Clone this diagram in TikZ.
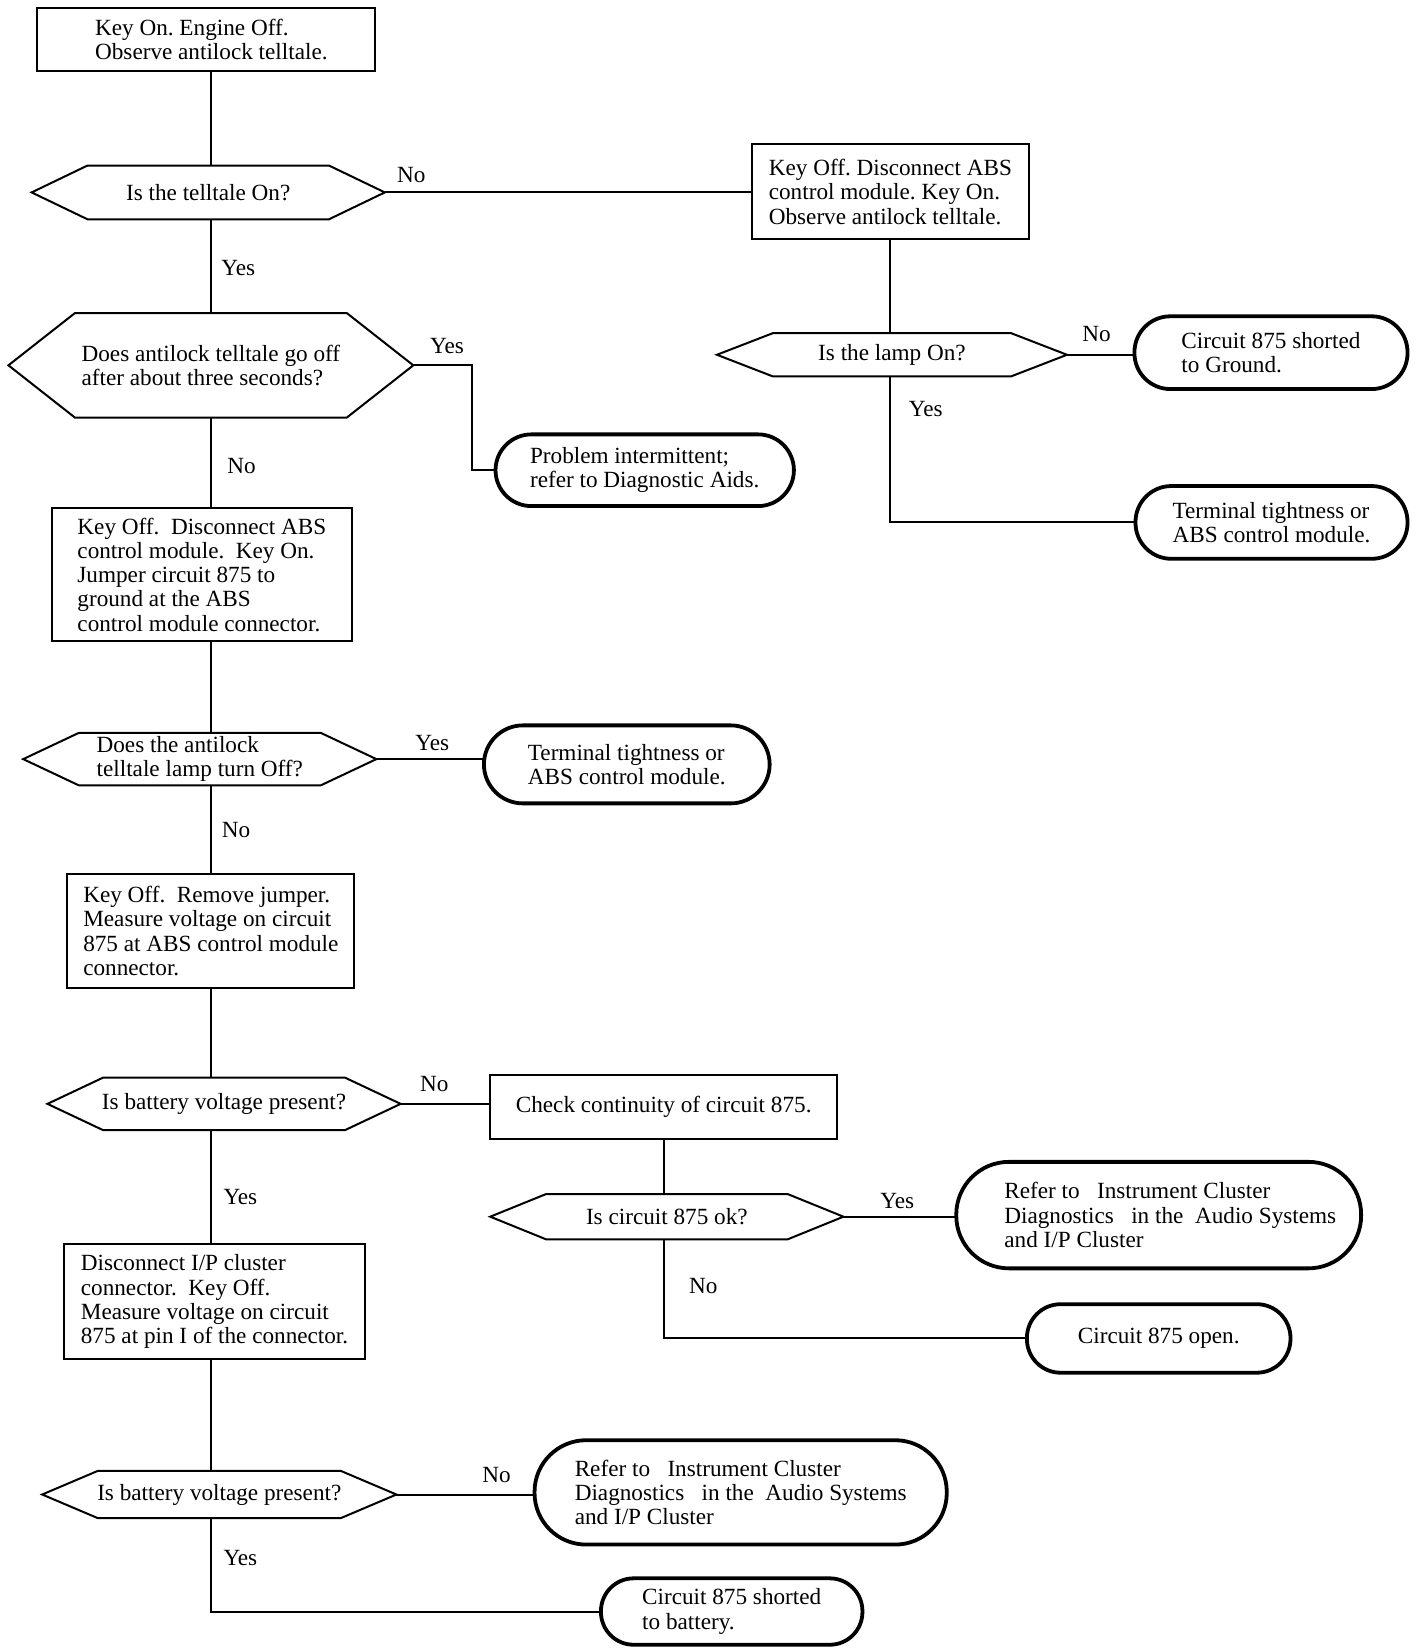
\documentclass[tikz,border=0pt]{standalone}
\usepackage{fontspec}
\setmainfont{Liberation Serif}
\frenchspacing
\newcommand\hexshape[2]{\draw[hexline] (#1.west) -- ([xshift=#2]#1.north west) -- ([xshift=-#2]#1.north east) -- (#1.east) -- ([xshift=-#2]#1.south east) -- ([xshift=#2]#1.south west) -- cycle;}
\begin{document}
\begin{tikzpicture}[x=1pt,y=-1pt,
  every node/.style={font=\fontsize{22}{23}\selectfont},
  box/.style={draw, line width=1.9pt, inner sep=0pt, outer sep=0pt, align=left},
  hexnode/.style={inner sep=0pt, outer sep=0pt, align=left},
  hexline/.style={line width=1.9pt, line join=miter},
  oval/.style={draw, line width=3.6pt, inner sep=0pt, outer sep=0pt, align=left},
  conn/.style={line width=1.9pt},
  lbl/.style={inner sep=0pt}]
\useasboundingbox (0,0) rectangle (1350,1565);
\coordinate (spine) at (200,0);

% left column
\node[box, minimum width=321pt, minimum height=59pt] (A) at (195.5,37.5) {\hspace*{10pt}Key On. Engine Off.\\\hspace*{10pt}Observe antilock telltale.};
\node[hexnode, minimum width=335pt, minimum height=51pt] (B) at (197.5,182.5) {Is the telltale On?};
\hexshape{B}{53pt}
\node[hexnode, minimum width=384pt, minimum height=99pt] (D) at (200,346.5) {Does antilock telltale go off\\after about three seconds?};
\hexshape{D}{63pt}
\node[box, minimum width=285pt, minimum height=126pt] (F) at (191.5,545) {Key Off.~~Disconnect ABS\\control module.~~Key On.\\Jumper circuit 875 to\\ground at the ABS\\control module connector.};
\node[hexnode, minimum width=335pt, minimum height=50pt] (G) at (189.5,720) {Does the antilock\\telltale lamp turn Off?};
\hexshape{G}{53pt}
\node[box, minimum width=272pt, minimum height=108pt] (I) at (200,883) {Key Off.~~Remove jumper.\\Measure voltage on circuit\\875 at ABS control module\\connector.};
\node[hexnode, minimum width=335pt, minimum height=50pt] (J) at (212.5,1047) {Is battery voltage present?};
\hexshape{J}{53pt}
\node[box, minimum width=285pt, minimum height=109pt] (O) at (203.5,1234.5) {Disconnect I/P cluster\\connector.~~Key Off.\\Measure voltage on circuit\\875 at pin I of the connector.};
\node[hexnode, minimum width=336pt, minimum height=45pt] (P) at (208,1417.5) {Is battery voltage present?};
\hexshape{P}{53pt}

% right parts
\node[box, minimum width=263pt, minimum height=90pt] (C) at (844.5,182) {Key Off. Disconnect ABS\\control module. Key On.\\Observe antilock telltale.};
\node[hexnode, minimum width=332pt, minimum height=41pt] (S) at (846,336.5) {Is the lamp On?};
\hexshape{S}{53pt}
\node[oval, rounded corners=34pt, minimum width=259pt, minimum height=69pt] (T) at (1205.5,334.5) {Circuit 875 shorted\\to Ground.};
\node[oval, rounded corners=34pt, minimum width=258pt, minimum height=69pt] (U) at (1206,495.5) {Terminal tightness or\\ABS control module.};
\node[oval, rounded corners=34pt, minimum width=283pt, minimum height=68pt] (E) at (611.5,446) {Problem intermittent;\\refer to Diagnostic Aids.};
\node[oval, rounded corners=37pt, minimum width=271pt, minimum height=74pt] (H) at (594.5,725) {Terminal tightness or\\ABS control module.};
\node[box, minimum width=329pt, minimum height=60pt] (K) at (629.5,1050) {Check continuity of circuit 875.};
\node[hexnode, minimum width=335pt, minimum height=43pt] (L) at (632.5,1154) {Is circuit 875 ok?};
\hexshape{L}{53pt}
\node[oval, rounded corners=50pt, minimum width=384pt, minimum height=101pt] (M) at (1099,1152.5) {\hspace*{22pt}Refer to~~~Instrument Cluster\\\hspace*{22pt}Diagnostics~~~in the~~Audio Systems\\\hspace*{22pt}and I/P Cluster};
\node[oval, rounded corners=32pt, minimum width=250pt, minimum height=65pt] (N) at (1099,1269.5) {Circuit 875 open.};
\node[oval, rounded corners=49pt, minimum width=391pt, minimum height=99pt] (Q) at (702.5,1415.5) {Refer to~~~Instrument Cluster\\Diagnostics~~~in the~~Audio Systems\\and I/P Cluster};
\node[oval, rounded corners=31pt, minimum width=248pt, minimum height=63pt] (R) at (694,1528.5) {Circuit 875 shorted\\to battery.};

% connectors
\draw[conn] (spine |- A.south) -- (spine |- B.north);
\draw[conn] (B.east) -- (B.east -| C.west);
\draw[conn] (spine |- B.south) -- (spine |- D.north);
\draw[conn] (D.east) -| ([xshift=-22pt]E.west) -- (E.west);
\draw[conn] (spine |- D.south) -- (spine |- F.north);
\draw[conn] (spine |- F.south) -- (spine |- G.north);
\draw[conn] (G.east) -- (G.east -| H.west);
\draw[conn] (spine |- G.south) -- (spine |- I.north);
\draw[conn] (spine |- I.south) -- (spine |- J.north);
\draw[conn] (J.east) -- (J.east -| K.west);
\draw[conn] (K.south) -- (K.south |- L.north);
\draw[conn] (L.east) -- (L.east -| M.west);
\draw[conn] (K.south |- L.south) |- (N.west);
\draw[conn] (spine |- J.south) -- (spine |- O.north);
\draw[conn] (spine |- O.south) -- (spine |- P.north);
\draw[conn] (P.east) -- (P.east -| Q.west);
\draw[conn] (spine |- P.south) |- (R.west);
\draw[conn] (C.south) -- (C.south |- S.north);
\draw[conn] (S.east) -- (S.east -| T.west);
\draw[conn] (C.south |- S.south) |- (U.west);

% labels
\node[lbl] (l1) at (390,166) {No};
\node[lbl] (l2) at (226,254) {Yes};
\node[lbl] (l3) at (424,328) {Yes};
\node[lbl] (l4) at (229,442) {No};
\node[lbl] (l5) at (410,705) {Yes};
\node[lbl] (l6) at (224,787) {No};
\node[lbl] (l7) at (412,1028) {No};
\node[lbl] (l8) at (228,1135) {Yes};
\node[lbl] (l9) at (851,1139) {Yes};
\node[lbl] (l10) at (667,1220) {No};
\node[lbl] (l11) at (471,1399) {No};
\node[lbl] (l12) at (228,1478) {Yes};
\node[lbl] (l13) at (1040,317) {No};
\node[lbl] (l14) at (878,388) {Yes};
\end{tikzpicture}
\end{document}
